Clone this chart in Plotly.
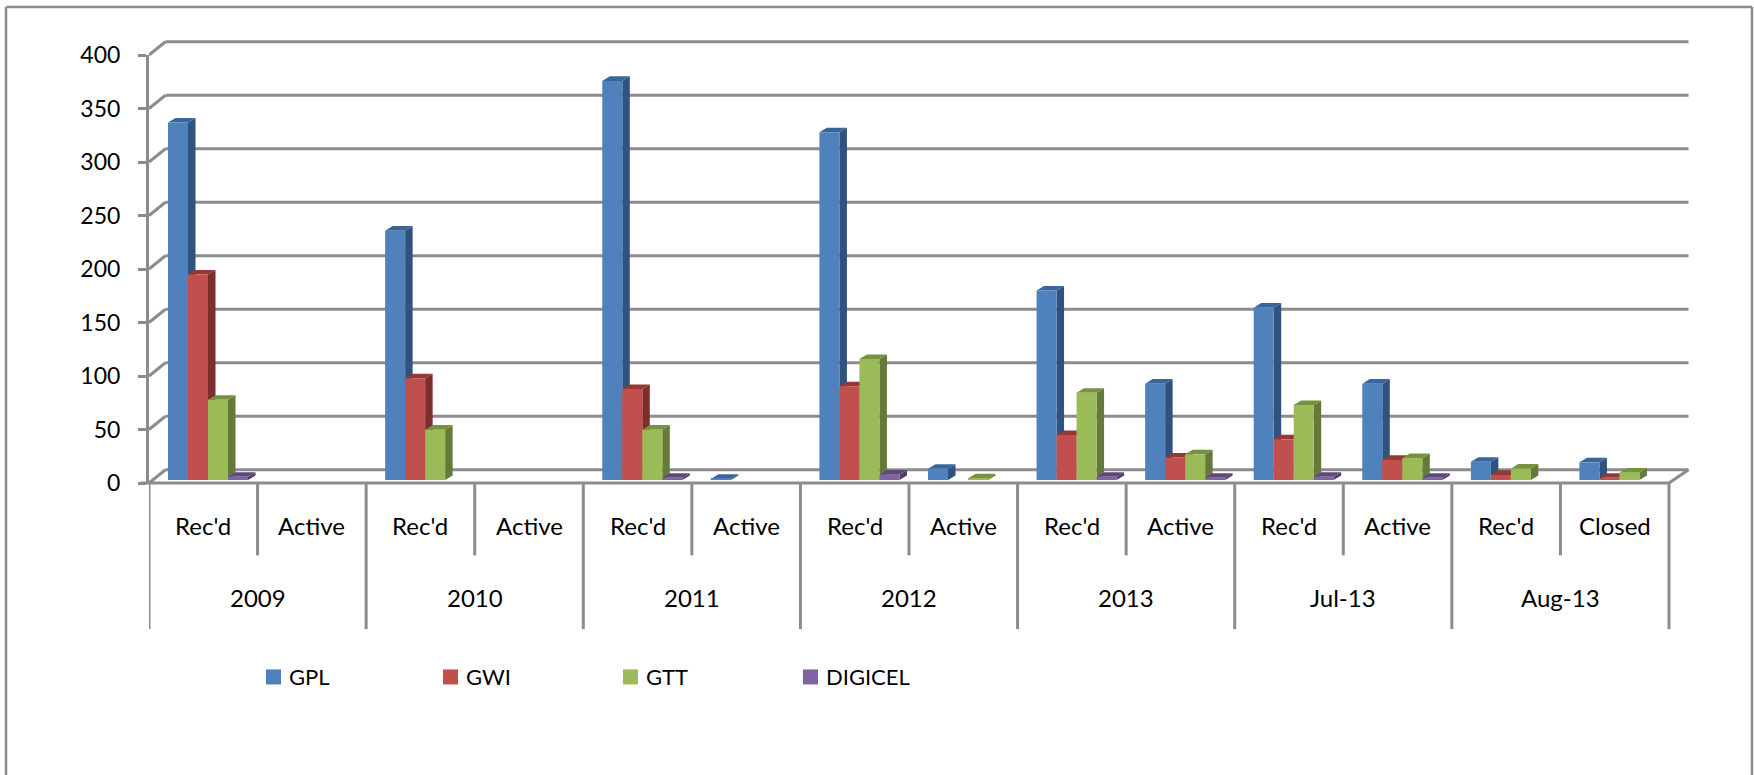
import plotly.graph_objects as go

# ---- data ----
SUB_LABELS = ["Rec'd", "Active", "Rec'd", "Active", "Rec'd", "Active", "Rec'd", "Active",
              "Rec'd", "Active", "Rec'd", "Active", "Rec'd", "Closed"]
GROUP_LABELS = ["2009", "2010", "2011", "2012", "2013", "Jul-13", "Aug-13"]
GPL = [334, None, 233, None, 373, 1, 325, 10.5, 177, 90, 161, 90, 17, 16.5]
GWI = [192, None, 95, None, 85, None, 87.5, None, 42, 21, 38, 18.8, 4.7, 2]
GTT = [75, None, 47, None, 47, None, 113, 1.5, 81.5, 24, 70, 20.5, 10.6, 6.8]
DIGICEL = [3, None, None, None, 2, None, 5, None, 3, 2, 3, 2, None, None]
SERIES_NAMES = ["GPL", "GWI", "GTT", "DIGICEL"]
SERIES_VALUES = [GPL, GWI, GTT, DIGICEL]
Y_TICKS = [0, 50, 100, 150, 200, 250, 300, 350, 400]

# ---- styling ----
FRONT = ["#4F81BD", "#C0504D", "#9BBB59", "#8064A2"]
SIDE = ["#30527E", "#7C2E2C", "#657A3A", "#4F3B6B"]
TOP = ["#3A659A", "#953735", "#76923C", "#60497A"]
GRID = "#8C8C8C"
FONT = "Lato, Carlito, Calibri, sans-serif"
AXIS_SIZE = 23
CAT_SIZE = 24
LEGEND_SIZE = 22

W, H = 1754, 775
L, R, T, B = 149.0, 1690.0, 55.0, 482.7
SLOT = 1520.0 / 14
XMAX = (R - L) / SLOT - 0.5
PX_Y = (B - T) / 400


def px(x):
    return (x - L) / (R - L)


def py(y):
    return (B - y) / (B - T)


BAR_W = 20.0 / SLOT
BAR_START = 19.0 / SLOT - 0.5
BASE = 3.0 / PX_Y
DEPTH_X = 7.5 / SLOT
DEPTH_Y = 4.6 / PX_Y
WALL_Y = 13.2 / PX_Y

shapes = []
line = dict(color=GRID, width=3)

# wall gridlines with connectors to the front axis
for v in Y_TICKS:
    shapes.append(dict(type="line", xref="x", yref="paper", layer="below",
                       x0=-0.5 + 16.5 / SLOT, x1=XMAX - 1.5 / SLOT,
                       y0=(v + WALL_Y) / 400, y1=(v + WALL_Y) / 400, line=line))
    shapes.append(dict(type="line", xref="x", yref="paper", layer="below",
                       x0=-0.5, x1=-0.5 + 16.5 / SLOT,
                       y0=v / 400, y1=(v + WALL_Y) / 400, line=line))
# floor right edge
shapes.append(dict(type="line", xref="x", yref="paper", layer="below",
                   x0=13.5, x1=XMAX - 1.5 / SLOT, y0=0, y1=WALL_Y / 400, line=line))

# 3D side and top faces
traces = []
for s, (name, vals) in enumerate(zip(SERIES_NAMES, SERIES_VALUES)):
    off = BAR_START + s * BAR_W
    for i, v in enumerate(vals):
        if v is None:
            continue
        x0, x1 = i + off, i + off + BAR_W
        yb, yt = BASE, BASE + v
        side = (f"M {x1} {yb} L {x1 + DEPTH_X} {yb + DEPTH_Y} "
                f"L {x1 + DEPTH_X} {yt + DEPTH_Y} L {x1} {yt} Z")
        top = (f"M {x0} {yt} L {x1} {yt} L {x1 + DEPTH_X} {yt + DEPTH_Y} "
               f"L {x0 + DEPTH_X} {yt + DEPTH_Y} Z")
        shapes.append(dict(type="path", xref="x", yref="y", layer="below", path=side,
                           fillcolor=SIDE[s], line=dict(width=0)))
        shapes.append(dict(type="path", xref="x", yref="y", layer="below", path=top,
                           fillcolor=TOP[s], line=dict(width=0)))
    traces.append(go.Bar(name=name, x=list(range(14)), y=vals, base=BASE, width=BAR_W,
                         offset=off, marker=dict(color=FRONT[s], line=dict(width=0)),
                         showlegend=False))

# category axis
shapes.append(dict(type="line", xref="paper", yref="paper", layer="above",
                   x0=px(141), x1=px(L + 14 * SLOT), y0=0, y1=0, line=dict(color=GRID, width=3.2)))
for i in range(15):
    end = 628.7 if i % 2 == 0 else 555
    shapes.append(dict(type="line", xref="x", yref="paper", layer="above",
                       x0=i - 0.5, x1=i - 0.5, y0=0, y1=py(end),
                       line=dict(color=GRID, width=3)))

annotations = []
cat_font = dict(family=FONT, size=CAT_SIZE, color="#000000")
leg_font = dict(family=FONT, size=LEGEND_SIZE, color="#000000")
for i, t in enumerate(SUB_LABELS):
    annotations.append(dict(text=t, x=i, y=py(525), xref="x", yref="paper", showarrow=False,
                            xanchor="center", yanchor="middle", font=cat_font))
for g, t in enumerate(GROUP_LABELS):
    annotations.append(dict(text=t, x=2 * g + 0.5, y=py(597), xref="x", yref="paper",
                            showarrow=False, xanchor="center", yanchor="middle", font=cat_font))

# legend
for s, (name, sx) in enumerate(zip(SERIES_NAMES, [266, 443, 623, 803])):
    shapes.append(dict(type="rect", xref="paper", yref="paper", layer="above",
                       x0=px(sx), x1=px(sx + 15), y0=py(669), y1=py(684),
                       fillcolor=FRONT[s], line=dict(width=0)))
    annotations.append(dict(text=name, x=px(sx + 21), y=py(676), xref="paper", yref="paper",
                            showarrow=False, xanchor="left", yanchor="middle", font=leg_font))

# outer frame (open at the bottom, as in the picture)
frame = dict(color=GRID, width=2.5)
for x0, y0, x1, y1 in [(6, 7, 6, 775), (6, 7, 1752, 7), (1752, 7, 1752, 775)]:
    shapes.append(dict(type="line", xref="paper", yref="paper", layer="above",
                       x0=px(x0), x1=px(x1), y0=py(y0), y1=py(y1), line=frame))

fig = go.Figure(traces)
fig.update_layout(
    width=W, height=H, autosize=False,
    margin=dict(l=L, r=W - R, t=T, b=H - B, pad=0, autoexpand=False),
    paper_bgcolor="white", plot_bgcolor="white",
    barmode="overlay", showlegend=False,
    font=dict(family=FONT, size=AXIS_SIZE, color="#000000"),
    shapes=shapes, annotations=annotations,
    xaxis=dict(range=[-0.5, XMAX], showticklabels=False, showgrid=False, zeroline=False,
               showline=False, ticks=""),
    yaxis=dict(range=[0, 400], tickvals=Y_TICKS, showgrid=False, zeroline=False,
               showline=True, linecolor=GRID, linewidth=3, ticks="outside", ticklen=8,
               tickcolor=GRID, tickwidth=3, ticklabelstandoff=13,
               tickfont=dict(family=FONT, size=AXIS_SIZE, color="#000000")),
)

fig.write_html("out.html", config={"displayModeBar": False},
               post_script="document.body.style.margin='0';")
